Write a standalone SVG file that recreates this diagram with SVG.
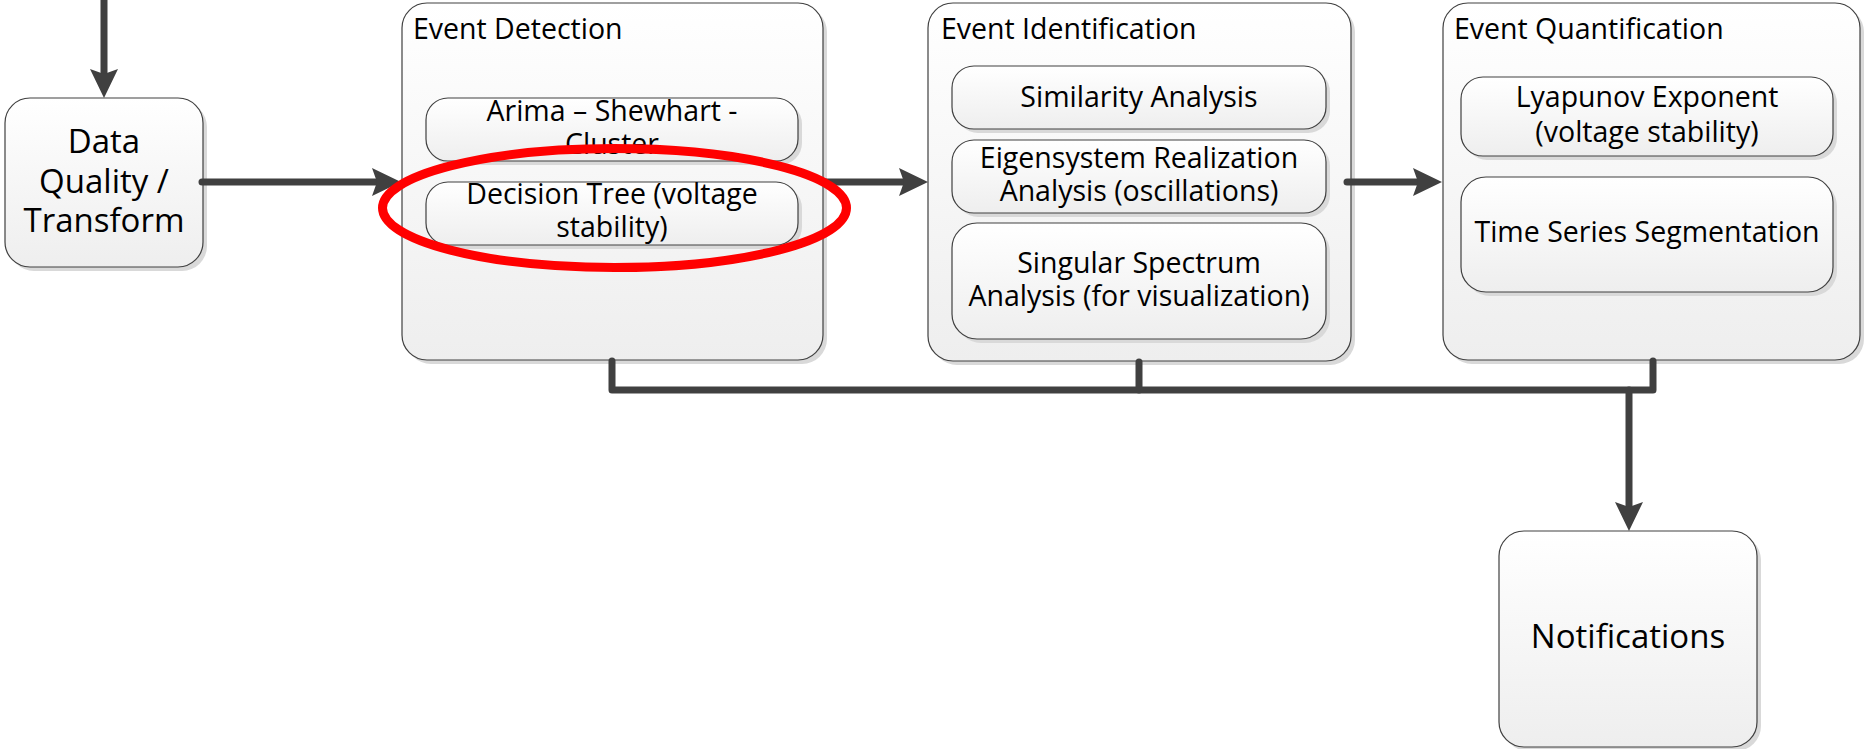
<svg xmlns="http://www.w3.org/2000/svg" width="1864" height="749" viewBox="0 0 1864 749">
  <defs>
    <linearGradient id="boxFill" x1="0" y1="0" x2="0" y2="1">
      <stop offset="0" stop-color="#ffffff"/>
      <stop offset="1" stop-color="#eeeeee"/>
    </linearGradient>
    <marker id="arrow" markerUnits="userSpaceOnUse" markerWidth="30" markerHeight="28" viewBox="0 0 30 28" refX="4" refY="14" orient="auto">
      <path d="M0,0 L29,14 L0,28 L5,14 z" fill="#404040"/>
    </marker>
    <style>
      .shadow { fill: #d9d9d9; }
      .box { fill: url(#boxFill); stroke: #404040; stroke-width: 1.2; }
      .conn { fill: none; stroke: #404040; stroke-width: 7; stroke-linecap: round; stroke-linejoin: round; }
      text { font-family: "Open Sans", "Noto Sans", "Liberation Sans", sans-serif; fill: #000000; }
      .big { font-size: 33px; text-anchor: middle; }
      .title { font-size: 28.5px; }
      .inner { font-size: 28.5px; text-anchor: middle; }
    </style>
  </defs>

  <rect width="1864" height="749" fill="#ffffff"/>

  <g id="data-quality">
    <rect class="shadow" x="9" y="102" width="198" height="169" rx="25"/>
    <rect class="box" x="5" y="98" width="198" height="169" rx="25"/>
    <text class="big" x="104" y="153">Data</text>
    <text class="big" x="104" y="193">Quality /</text>
    <text class="big" x="104" y="232">Transform</text>
  </g>

  <g id="event-detection">
    <rect class="shadow" x="406" y="7" width="421" height="357" rx="25"/>
    <rect class="box" x="402" y="3" width="421" height="357" rx="25"/>
    <text class="title" x="413" y="39">Event Detection</text>
    <g id="arima">
      <rect class="shadow" x="430" y="102" width="372" height="63" rx="22"/>
      <rect class="box" x="426" y="98" width="372" height="63" rx="22"/>
      <text class="inner" x="612" y="121">Arima – Shewhart -</text>
      <text class="inner" x="612" y="154">Cluster</text>
    </g>
    <g id="decision-tree">
      <rect class="shadow" x="430" y="186" width="372" height="63" rx="22"/>
      <rect class="box" x="426" y="182" width="372" height="63" rx="22"/>
      <text class="inner" x="612" y="204">Decision Tree (voltage</text>
      <text class="inner" x="612" y="237">stability)</text>
    </g>
  </g>

  <g id="event-identification">
    <rect class="shadow" x="932" y="7" width="423" height="358" rx="25"/>
    <rect class="box" x="928" y="3" width="423" height="358" rx="25"/>
    <text class="title" x="941" y="39">Event Identification</text>
    <g id="similarity">
      <rect class="shadow" x="956" y="70" width="374" height="63" rx="22"/>
      <rect class="box" x="952" y="66" width="374" height="63" rx="22"/>
      <text class="inner" x="1139" y="107">Similarity Analysis</text>
    </g>
    <g id="era">
      <rect class="shadow" x="956" y="144" width="374" height="73" rx="22"/>
      <rect class="box" x="952" y="140" width="374" height="73" rx="22"/>
      <text class="inner" x="1139" y="168">Eigensystem Realization</text>
      <text class="inner" x="1139" y="201">Analysis (oscillations)</text>
    </g>
    <g id="ssa">
      <rect class="shadow" x="956" y="227" width="374" height="116" rx="25"/>
      <rect class="box" x="952" y="223" width="374" height="116" rx="25"/>
      <text class="inner" x="1139" y="273">Singular Spectrum</text>
      <text class="inner" x="1139" y="306">Analysis (for visualization)</text>
    </g>
  </g>

  <g id="event-quantification">
    <rect class="shadow" x="1447" y="7" width="417" height="357" rx="25"/>
    <rect class="box" x="1443" y="3" width="417" height="357" rx="25"/>
    <text class="title" x="1454" y="39">Event Quantification</text>
    <g id="lyapunov">
      <rect class="shadow" x="1465" y="81" width="372" height="79" rx="22"/>
      <rect class="box" x="1461" y="77" width="372" height="79" rx="22"/>
      <text class="inner" x="1647" y="107">Lyapunov Exponent</text>
      <text class="inner" x="1647" y="142">(voltage stability)</text>
    </g>
    <g id="segmentation">
      <rect class="shadow" x="1465" y="181" width="372" height="115" rx="25"/>
      <rect class="box" x="1461" y="177" width="372" height="115" rx="25"/>
      <text class="inner" x="1647" y="242">Time Series Segmentation</text>
    </g>
  </g>

  <g id="notifications">
    <rect class="shadow" x="1503" y="535" width="258" height="216" rx="25"/>
    <rect class="box" x="1499" y="531" width="258" height="216" rx="25"/>
    <text class="big" x="1628" y="648">Notifications</text>
  </g>

  <g id="connectors">
    <path class="conn" d="M104,-5 V73" marker-end="url(#arrow)"/>
    <path class="conn" d="M202,182 H376" marker-end="url(#arrow)"/>
    <path class="conn" d="M823,182 H903" marker-end="url(#arrow)"/>
    <path class="conn" d="M1347,182 H1417" marker-end="url(#arrow)"/>
    <path class="conn" d="M612,361 V390 H1653 V361"/>
    <path class="conn" d="M1139,362 V390"/>
    <path class="conn" d="M1629,390 V506" marker-end="url(#arrow)"/>
  </g>

  <g id="highlight">
    <ellipse cx="614.5" cy="208" rx="232" ry="59.5" fill="none" stroke="#ff0000" stroke-width="9"/>
  </g>
</svg>
